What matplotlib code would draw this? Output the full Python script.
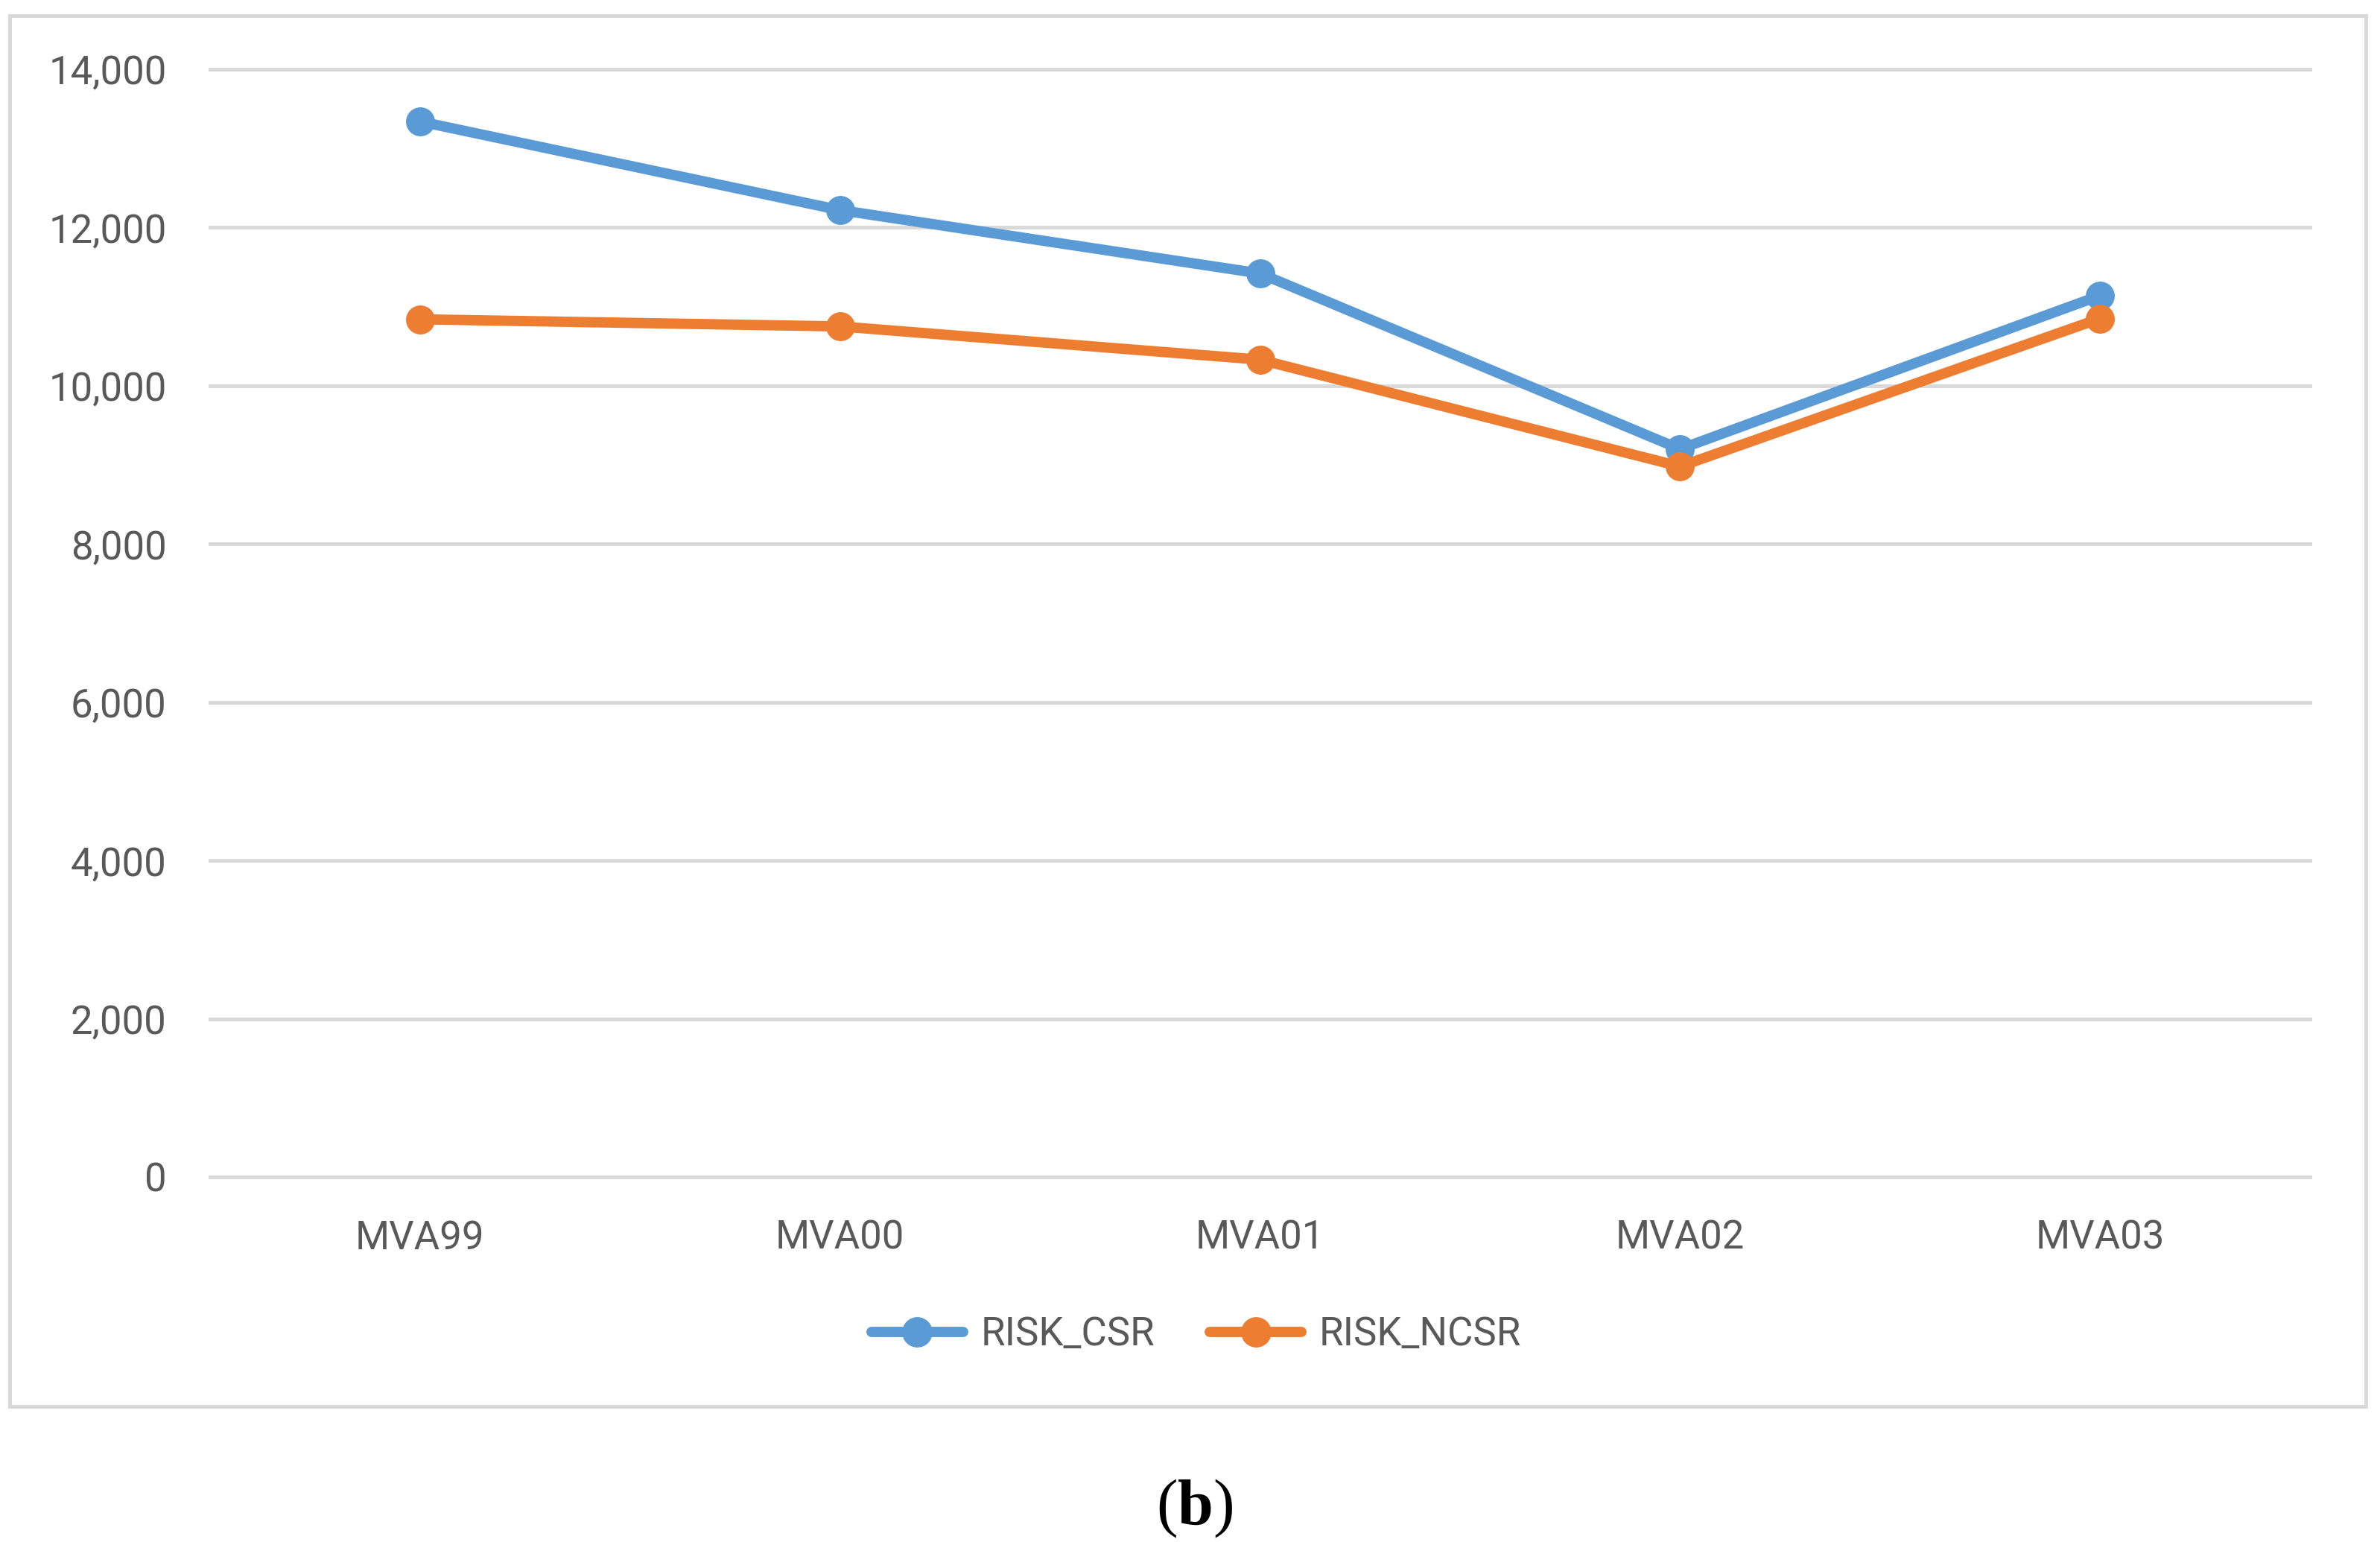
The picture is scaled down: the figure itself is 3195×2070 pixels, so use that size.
import matplotlib.pyplot as plt
from matplotlib.patches import Rectangle
from matplotlib.ticker import FuncFormatter

# Data
categories = ['MVA99', 'MVA00', 'MVA01', 'MVA02', 'MVA03']
risk_csr = [13340, 12220, 11420, 9200, 11140]
risk_ncsr = [10840, 10750, 10330, 8980, 10850]
y_ticks = [0, 2000, 4000, 6000, 8000, 10000, 12000, 14000]

BLUE = '#5B9BD5'
ORANGE = '#ED7D31'
GRID = '#D9D9D9'
TXT = '#595959'

plt.rcParams['font.family'] = ['Roboto', 'DejaVu Sans']
plt.rcParams['mathtext.fontset'] = 'custom'
plt.rcParams['mathtext.bf'] = 'Liberation Serif:bold'
plt.rcParams['mathtext.rm'] = 'Liberation Serif'

W, H = 3195, 2070
fig = plt.figure(figsize=(W / 100, H / 100), dpi=100)
ax = fig.add_axes([282 / W, 1 - 1580 / H, (3101 - 282) / W, (1580 - 93) / H])

x = range(len(categories))
ax.plot(x, risk_csr, color=BLUE, lw=10, marker='o', ms=27,
        solid_capstyle='round', label='RISK_CSR', zorder=3)
ax.plot(x, risk_ncsr, color=ORANGE, lw=10, marker='o', ms=27,
        solid_capstyle='round', label='RISK_NCSR', zorder=3)

ax.set_xlim(-0.5, len(categories) - 0.5)
ax.set_ylim(0, 14000)
ax.set_yticks(y_ticks)
ax.yaxis.set_major_formatter(FuncFormatter(lambda v, p: f'{int(v):,}'))
ax.set_xticks(list(x))
ax.set_xticklabels(categories)

ax.grid(axis='y', color=GRID, lw=3.6)
for g in ax.get_ygridlines():
    g.set_clip_on(False)
ax.set_axisbelow(True)
for s in ax.spines.values():
    s.set_visible(False)
ax.tick_params(axis='both', length=0, labelsize=38, labelcolor=TXT)
ax.tick_params(axis='y', pad=42)
ax.tick_params(axis='x', pad=41)

fig.legend(loc='center', bbox_to_anchor=(1606 / W, 1 - 1792 / H), ncol=2,
           frameon=False, fontsize=38, labelcolor=TXT, handlelength=2.33,
           handletextpad=0.45, columnspacing=1.4, markerscale=1.05)

# outer chart border
fig.patches.append(Rectangle((13 / W, 1 - 1888 / H), (3176 - 13) / W, (1888 - 21) / H,
                             transform=fig.transFigure, fill=False,
                             edgecolor=GRID, lw=3.6))

# panel label: plain parentheses, bold letter
fig.text(1604 / W, 1 - 2025 / H, r'($\mathbf{b}$)', ha='center', va='center',
         fontsize=62, family='Liberation Serif', color='black')

fig.savefig('out.png', dpi=100, facecolor='white')
